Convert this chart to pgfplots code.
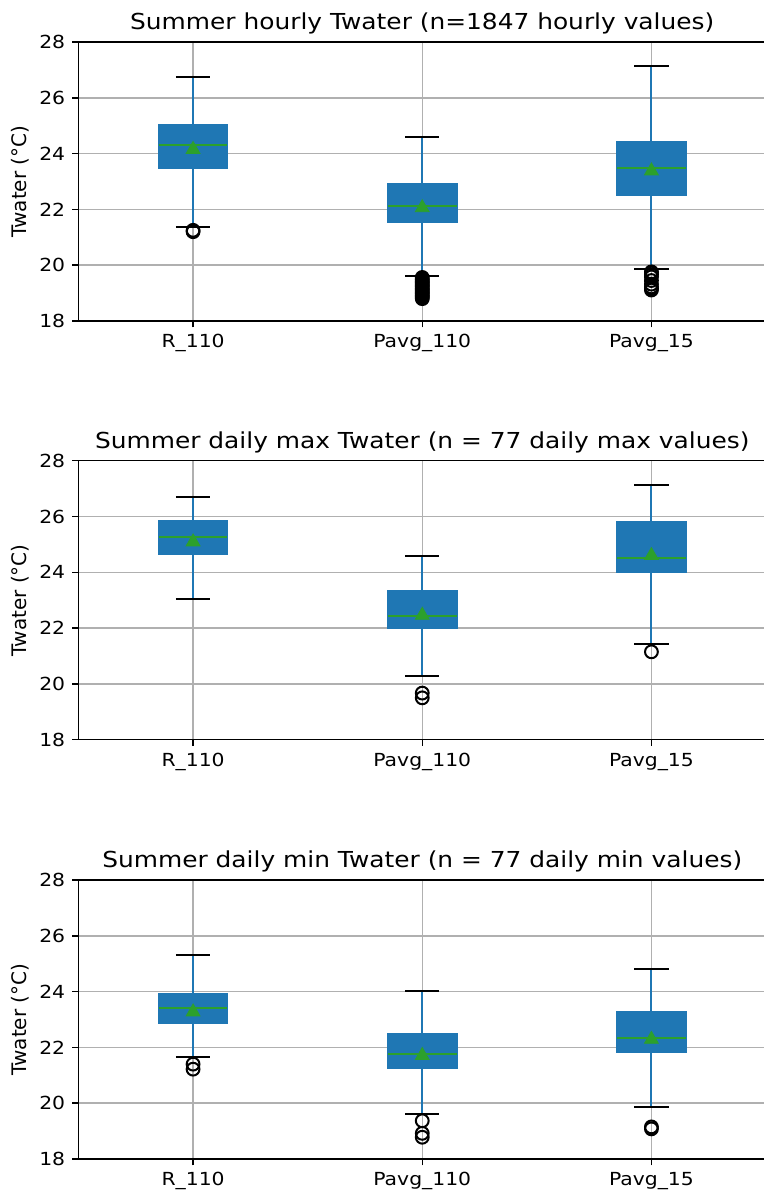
\documentclass[border=0pt]{standalone}
\usepackage{pgfplots}
\pgfplotsset{compat=1.18}
\usepackage{fontspec}
\setmainfont{DejaVu Sans}
\newfontfamily\widefont{DejaVu Sans}[FakeStretch=1.13]
\definecolor{c0}{HTML}{1F77B4}
\definecolor{cg}{HTML}{2CA02C}
\definecolor{gridc}{HTML}{B0B0B0}
\pgfplotsset{
  mybox/.style={
    width=343.75pt, height=139.5pt, scale only axis,
    xmin=0.5, xmax=3.5, ymin=18, ymax=28,
    xtick={1,2,3}, xticklabels={R\_110,Pavg\_110,Pavg\_15},
    ytick={18,20,22,24,26,28},
    axis y line*=left,
    xtick pos=bottom, ytick pos=left,
    xmajorgrids, ymajorgrids,
    grid style={gridc, line width=0.75pt},
    axis line style={line width=0.75pt},
    tick style={black, line width=0.75pt},
    tick align=outside, major tick length=3.15pt,
    /pgf/number format/assume math mode=true,
    tick label style={font=\widefont\fontsize{9}{10}\selectfont},
    ylabel={Twater (°C)},
    ylabel style={font=\fontsize{9}{10}\selectfont},
    every axis y label/.style={at={(axis description cs:0,0.5)}, xshift=-29.25pt, rotate=90, anchor=center},
    title style={font=\widefont\fontsize{11}{12}\selectfont, at={(0.5,1)}, anchor=base, yshift=0.3pt, inner sep=0pt},
  },
  outl/.style={only marks, mark=o, mark size=3.2pt, mark options={black, line width=1pt, solid}},
  meanm/.style={only marks, mark=triangle*, mark size=4pt, mark options={draw=cg, fill=cg}},
}
% box: #1 position, #2 lower whisker, #3 lower quartile, #4 median, #5 upper quartile, #6 upper whisker
\newcommand{\bx}[6]{%
  \pgfmathsetmacro\boxl{#1-0.15}\pgfmathsetmacro\boxr{#1+0.15}%
  \pgfmathsetmacro\capl{#1-0.075}\pgfmathsetmacro\capr{#1+0.075}%
  \addplot[c0, line width=1pt] coordinates {(#1,#2) (#1,#3)};
  \addplot[c0, line width=1pt] coordinates {(#1,#5) (#1,#6)};
  \addplot[black, line width=1pt] coordinates {(\capl,#2) (\capr,#2)};
  \addplot[black, line width=1pt] coordinates {(\capl,#6) (\capr,#6)};
  \addplot[fill=c0, draw=c0, line width=0.9pt] coordinates {(\boxl,#3) (\boxr,#3) (\boxr,#5) (\boxl,#5)} -- cycle;
  \addplot[cg, line width=1pt] coordinates {(\boxl,#4) (\boxr,#4)};
}
\begin{document}
\begin{tikzpicture}
\path[use as bounding box] (0,0) rectangle (382pt,599.5pt);
% ---------------- Panel 1 ----------------
\begin{axis}[mybox, at={(39.25pt,439pt)}, anchor=south west,
  title={Summer hourly Twater (n=1847 hourly values)}]
\bx{1}{21.37}{23.49}{24.30}{25.02}{26.74}
\bx{2}{19.63}{21.56}{22.11}{22.92}{24.59}
\bx{3}{19.85}{22.53}{23.49}{24.41}{27.14}
\addplot[outl] coordinates {(1,21.25) (1,21.20)};
\addplot[outl] coordinates {(2,19.56) (2,19.50) (2,19.45) (2,19.40) (2,19.35) (2,19.30) (2,19.25) (2,19.20) (2,19.15) (2,19.10) (2,19.05) (2,19.00) (2,18.95) (2,18.90) (2,18.85) (2,18.80)};
\addplot[outl] coordinates {(3,19.76) (3,19.72) (3,19.66) (3,19.58) (3,19.45) (3,19.32) (3,19.22) (3,19.16) (3,19.11)};
\addplot[meanm] coordinates {(1,24.15) (2,22.06) (3,23.38)};
\end{axis}
% ---------------- Panel 2 ----------------
\begin{axis}[mybox, at={(39.25pt,229.65pt)}, anchor=south west,
  title={Summer daily max Twater (n = 77 daily max values)}]
\bx{1}{23.03}{24.65}{25.26}{25.85}{26.71}
\bx{2}{20.27}{22.00}{22.43}{23.32}{24.59}
\bx{3}{21.43}{24.00}{24.53}{25.81}{27.12}
\addplot[outl] coordinates {(2,19.67) (2,19.50)};
\addplot[outl] coordinates {(3,21.15)};
\addplot[meanm] coordinates {(1,25.09) (2,22.46) (3,24.60)};
\end{axis}
% ---------------- Panel 3 ----------------
\begin{axis}[mybox, at={(39.25pt,20pt)}, anchor=south west,
  title={Summer daily min Twater (n = 77 daily min values)}]
\bx{1}{21.64}{22.87}{23.41}{23.91}{25.32}
\bx{2}{19.63}{21.27}{21.77}{22.47}{24.03}
\bx{3}{19.87}{21.83}{22.34}{23.27}{24.82}
\addplot[outl] coordinates {(1,21.40) (1,21.22)};
\addplot[outl] coordinates {(2,19.37) (2,18.92) (2,18.78)};
\addplot[outl] coordinates {(3,19.15) (3,19.08)};
\addplot[meanm] coordinates {(1,23.27) (2,21.71) (3,22.29)};
\end{axis}
\end{tikzpicture}
\end{document}
